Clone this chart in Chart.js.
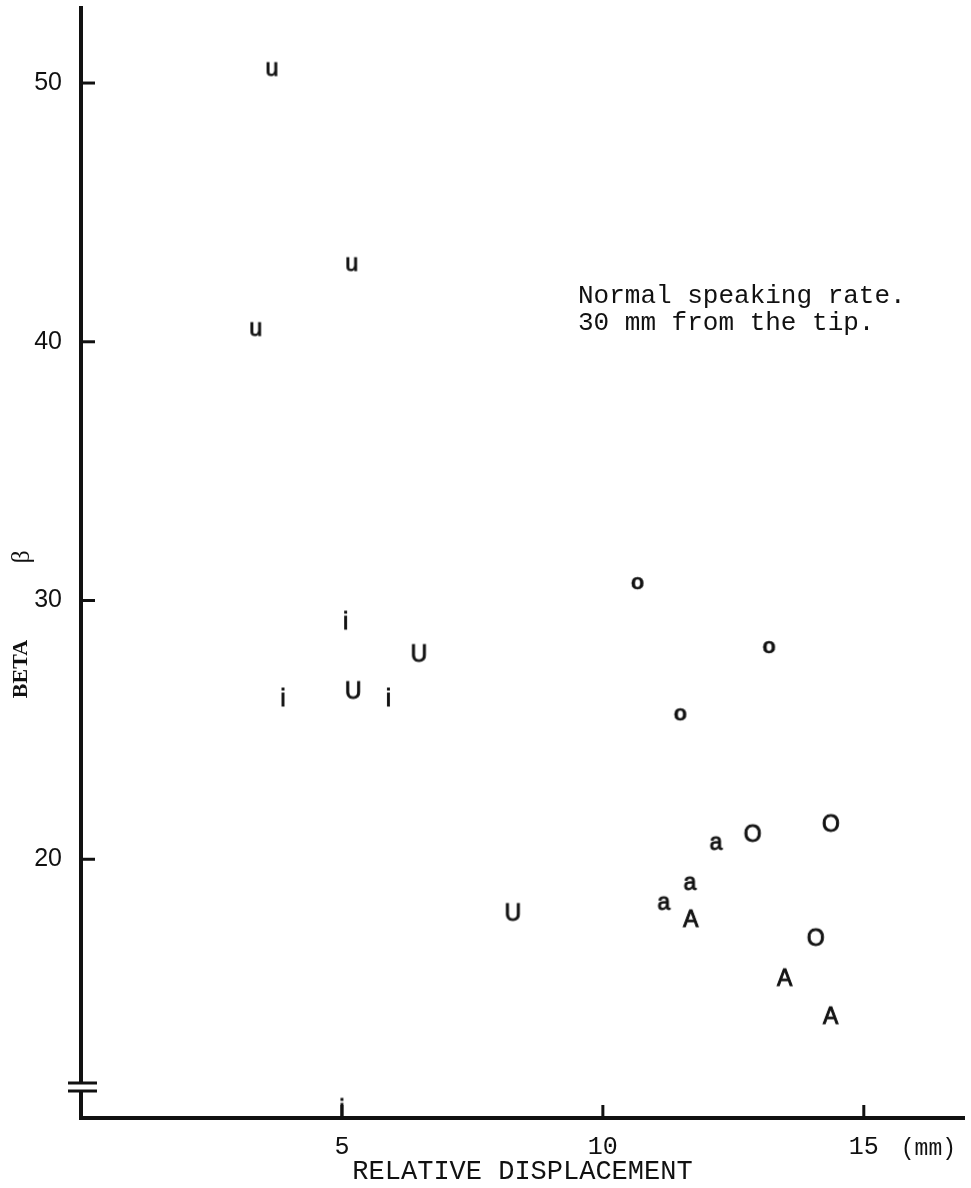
<!DOCTYPE html>
<html><head><meta charset="utf-8">
<script src="https://cdn.jsdelivr.net/npm/chart.js@4/dist/chart.umd.min.js"></script>
<style>html,body{margin:0;padding:0;background:#fff;} canvas{display:block;}</style>
</head><body>
<canvas id="c" width="971" height="1188"></canvas>
<script>
// ---- data ----
const xTicks = [5, 10, 15];
const yTicks = [20, 30, 40, 50];

const u_x = [3.66, 5.19, 3.35];
const u_y = [50.54, 43.0, 40.49];
const i_x = [5.07, 3.87, 5.89, 5.0];
const i_y = [29.24, 26.27, 26.27, 10.41];
const Ucap_x = [5.21, 6.47, 8.27];
const Ucap_y = [26.54, 27.97, 17.96];
const o_x = [10.66, 13.18, 11.48];
const o_y = [30.67, 28.2, 25.6];
const a_x = [12.17, 11.67, 11.17];
const a_y = [20.62, 19.07, 18.3];
const Acap_x = [11.69, 13.49, 14.37];
const Acap_y = [17.72, 15.44, 13.97];
const Ocap_x = [12.87, 14.37, 14.08];
const Ocap_y = [21.01, 21.4, 16.99];

const xTitle = 'RELATIVE DISPLACEMENT';
const yTitle = 'BETA';
const yTitleSymbol = 'β';
const xUnit = '(mm)';
const noteLines = ['Normal speaking rate.', '30 mm from the tip.'];

// ---- helpers ----
function glyph(ch, font, sw) {
  const m = document.createElement('canvas').getContext('2d');
  m.font = font;
  const t = m.measureText(ch);
  const w = Math.ceil(t.actualBoundingBoxLeft + t.actualBoundingBoxRight) + 4;
  const h = Math.ceil(t.actualBoundingBoxAscent + t.actualBoundingBoxDescent) + 4;
  const c = document.createElement('canvas');
  c.width = w; c.height = h;
  const g = c.getContext('2d');
  g.font = font; g.fillStyle = '#111'; g.strokeStyle = '#111'; g.lineWidth = sw;
  g.textBaseline = 'alphabetic'; g.textAlign = 'left';
  g.fillText(ch, 2 + t.actualBoundingBoxLeft, 2 + t.actualBoundingBoxAscent);
  if (sw > 0) g.strokeText(ch, 2 + t.actualBoundingBoxLeft, 2 + t.actualBoundingBoxAscent);
  return c;
}
function pts(xs, ys) { return xs.map((x, k) => ({x, y: ys[k]})); }
const SANS = '23px "Liberation Sans"';
function ds(label, xs, ys, font, sw) {
  return { label, data: pts(xs, ys), pointStyle: glyph(label, font || SANS, sw === undefined ? 0.9 : sw), pointRadius: 6, showLine: false, clip: false };
}

const decor = {
  id: 'decor',
  afterDraw(chart) {
    const {ctx, chartArea: ca, scales: {x, y}} = chart;
    ctx.save();
    ctx.strokeStyle = '#111'; ctx.lineWidth = 3;
    yTicks.forEach(v => { const p = y.getPixelForValue(v); ctx.beginPath(); ctx.moveTo(ca.left, p); ctx.lineTo(ca.left + 14, p); ctx.stroke(); });
    xTicks.forEach(v => { const p = x.getPixelForValue(v); ctx.beginPath(); ctx.moveTo(p, ca.bottom); ctx.lineTo(p, ca.bottom - 13); ctx.stroke(); });
    // axis break
    const b1 = ca.bottom - 35, b2 = ca.bottom - 27;
    ctx.fillStyle = '#fff'; ctx.fillRect(ca.left - 4, b1 + 1, 8, b2 - b1 - 2);
    [b1, b2].forEach(b => { ctx.beginPath(); ctx.moveTo(ca.left - 13, b); ctx.lineTo(ca.left + 16, b); ctx.stroke(); });
    // unit
    ctx.fillStyle = '#111'; ctx.textAlign = 'left'; ctx.textBaseline = 'alphabetic';
    ctx.font = '23px "Liberation Mono"';
    ctx.fillText(xUnit, x.getPixelForValue(15) + 37, 1155);
    // note
    ctx.font = '26px "Liberation Mono"';
    ctx.fillText(noteLines[0], 578, 303);
    ctx.fillText(noteLines[1], 578, 330);
    // y title
    ctx.save(); ctx.translate(21, 669); ctx.rotate(-Math.PI / 2);
    ctx.font = 'bold 22px "Liberation Serif"'; ctx.textAlign = 'center'; ctx.textBaseline = 'middle';
    ctx.fillText(yTitle, 0, 0); ctx.restore();
    ctx.save(); ctx.translate(22, 557); ctx.rotate(-Math.PI / 2);
    ctx.font = '26px "Liberation Serif"'; ctx.textAlign = 'center'; ctx.textBaseline = 'middle';
    ctx.fillText(yTitleSymbol, 0, 0); ctx.restore();
    ctx.restore();
  }
};

new Chart(document.getElementById('c'), {
  type: 'scatter',
  data: {
    datasets: [
      ds('u', u_x, u_y),
      ds('i', i_x, i_y),
      ds('U', Ucap_x, Ucap_y),
      ds('o', o_x, o_y, 'bold 22px "Liberation Sans"', 0.3),
      ds('a', a_x, a_y),
      ds('A', Acap_x, Acap_y),
      ds('O', Ocap_x, Ocap_y)
    ]
  },
  options: {
    responsive: false,
    animation: false,
    devicePixelRatio: 1,
    layout: { padding: { top: 8, right: 5, left: 0, bottom: 0 } },
    plugins: { legend: { display: false }, tooltip: { enabled: false } },
    scales: {
      x: {
        type: 'linear', position: 'bottom', min: 0, max: 16.92,
        afterFit(s) { s.height = 70; s.paddingLeft = 0; s.paddingRight = 0; },
        afterBuildTicks(s) { s.ticks = xTicks.map(v => ({value: v})); },
        grid: { display: false, drawTicks: false },
        border: { display: true, width: 4, color: '#111' },
        ticks: { color: '#111', padding: 14, font: { family: 'Liberation Mono', size: 25 }, maxRotation: 0, autoSkip: false },
        title: { display: true, text: xTitle, color: '#111', padding: { top: 0, bottom: 0 }, font: { family: 'Liberation Mono', size: 27 } }
      },
      y: {
        type: 'linear', position: 'left', min: 10, max: 52.9,
        afterFit(s) { s.width = 81; s.paddingTop = 0; s.paddingBottom = 0; },
        afterBuildTicks(s) { s.ticks = yTicks.map(v => ({value: v})); },
        grid: { display: false, drawTicks: false },
        border: { display: true, width: 4, color: '#111' },
        ticks: { color: '#111', padding: 19, font: { family: 'Liberation Sans', size: 25 }, autoSkip: false }
      }
    }
  },
  plugins: [decor]
});
</script>
</body></html>
